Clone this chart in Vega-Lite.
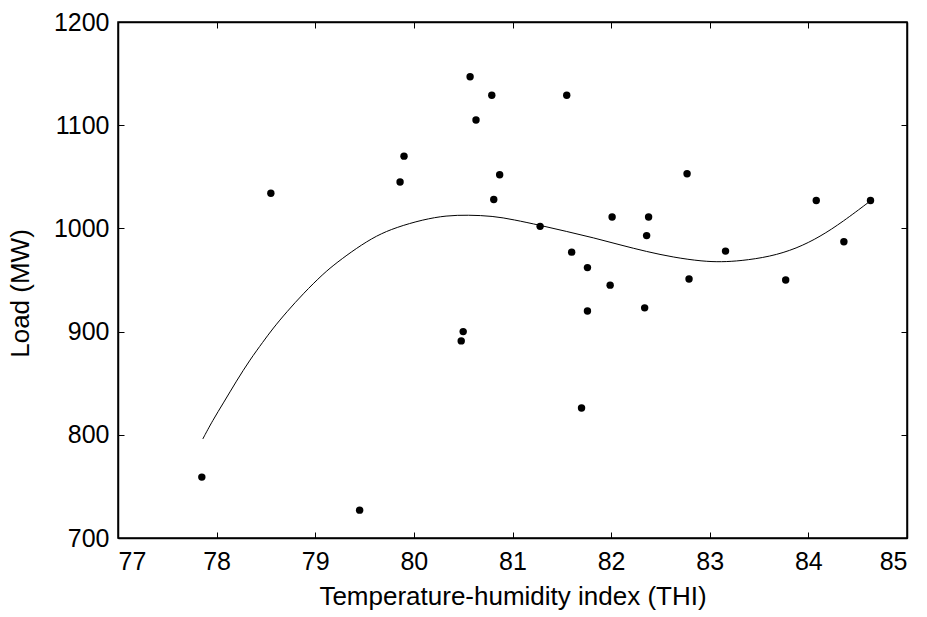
{
  "$schema": "https://vega.github.io/schema/vega-lite/v6.json",
  "width": 789,
  "height": 516,
  "autosize": {"type": "none"},
  "padding": {"left": 118, "top": 22, "right": 20, "bottom": 79},
  "background": "white",
  "config": {
    "font": "Liberation Sans",
    "view": {"stroke": "black", "strokeWidth": 1.5},
    "axis": {
      "grid": false,
      "domainColor": "black",
      "domainWidth": 1.5,
      "tickColor": "black",
      "tickWidth": 1,
      "tickSize": -6,
      "labelColor": "black",
      "labelFontSize": 25,
      "labelFont": "Liberation Sans",
      "titleFont": "Liberation Sans",
      "titleColor": "black",
      "titleFontWeight": "normal",
      "titleFontSize": 26
    }
  },
  "datasets": {
    "obs": [
      {"thi": 77.85, "load": 759},
      {"thi": 78.55, "load": 1034},
      {"thi": 79.45, "load": 727},
      {"thi": 79.86, "load": 1045},
      {"thi": 79.90, "load": 1070},
      {"thi": 80.48, "load": 891},
      {"thi": 80.50, "load": 900},
      {"thi": 80.57, "load": 1147},
      {"thi": 80.63, "load": 1105},
      {"thi": 80.79, "load": 1129},
      {"thi": 80.81, "load": 1028},
      {"thi": 80.87, "load": 1052},
      {"thi": 81.28, "load": 1002},
      {"thi": 81.55, "load": 1129},
      {"thi": 81.60, "load": 977},
      {"thi": 81.70, "load": 826},
      {"thi": 81.76, "load": 962},
      {"thi": 81.76, "load": 920},
      {"thi": 81.99, "load": 945},
      {"thi": 82.01, "load": 1011},
      {"thi": 82.34, "load": 923},
      {"thi": 82.36, "load": 993},
      {"thi": 82.38, "load": 1011},
      {"thi": 82.77, "load": 1053},
      {"thi": 82.79, "load": 951},
      {"thi": 83.16, "load": 978},
      {"thi": 83.77, "load": 950},
      {"thi": 84.08, "load": 1027},
      {"thi": 84.36, "load": 987},
      {"thi": 84.63, "load": 1027}
    ],
    "fit": [
      {"thi": 77.86, "load": 796},
      {"thi": 77.96, "load": 814},
      {"thi": 78.07, "load": 831},
      {"thi": 78.20, "load": 852},
      {"thi": 78.34, "load": 873},
      {"thi": 78.47, "load": 890},
      {"thi": 78.57, "load": 903},
      {"thi": 78.71, "load": 919},
      {"thi": 78.88, "load": 937},
      {"thi": 79.08, "load": 956},
      {"thi": 79.22, "load": 967},
      {"thi": 79.42, "load": 981},
      {"thi": 79.62, "load": 993},
      {"thi": 79.82, "load": 1001},
      {"thi": 80.09, "load": 1008.5},
      {"thi": 80.33, "load": 1012.5},
      {"thi": 80.55, "load": 1013},
      {"thi": 80.80, "load": 1012},
      {"thi": 81.01, "load": 1008.5},
      {"thi": 81.28, "load": 1003},
      {"thi": 81.55, "load": 997},
      {"thi": 81.82, "load": 991},
      {"thi": 82.09, "load": 984},
      {"thi": 82.36, "load": 977.5},
      {"thi": 82.63, "load": 972},
      {"thi": 82.93, "load": 968},
      {"thi": 83.12, "load": 967.5},
      {"thi": 83.31, "load": 968.5},
      {"thi": 83.61, "load": 972.5},
      {"thi": 83.88, "load": 980.5},
      {"thi": 84.12, "load": 992},
      {"thi": 84.35, "load": 1006.5},
      {"thi": 84.62, "load": 1026}
    ]
  },
  "layer": [
    {
      "data": {"name": "fit"},
      "mark": {"type": "line", "color": "black", "strokeWidth": 1, "interpolate": "basis"},
      "encoding": {
        "x": {
          "field": "thi", "type": "quantitative",
          "scale": {"domain": [77, 85], "nice": false, "zero": false},
          "axis": {"orient": "bottom", "values": [77, 78, 79, 80, 81, 82, 83, 84, 85], "format": "d", "title": "Temperature-humidity index (THI)", "labelPadding": 17, "titlePadding": 9}
        },
        "y": {
          "field": "load", "type": "quantitative",
          "scale": {"domain": [700, 1200], "nice": false, "zero": false},
          "axis": {"orient": "left", "values": [700, 800, 900, 1000, 1100, 1200], "format": "d", "title": "Load (MW)", "labelPadding": 15, "titleX": -85, "titleY": 271, "titleBaseline": "bottom", "titleAngle": -90, "titleAlign": "center"}
        }
      }
    },
    {
      "data": {"name": "obs"},
      "mark": {"type": "circle", "color": "black", "size": 55, "opacity": 1},
      "encoding": {
        "x": {
          "field": "thi", "type": "quantitative",
          "axis": {"orient": "top", "values": [77, 78, 79, 80, 81, 82, 83, 84, 85], "labels": false, "title": null}
        },
        "y": {
          "field": "load", "type": "quantitative",
          "axis": {"orient": "right", "values": [700, 800, 900, 1000, 1100, 1200], "labels": false, "title": null}
        }
      }
    }
  ],
  "resolve": {"axis": {"x": "independent", "y": "independent"}}
}
